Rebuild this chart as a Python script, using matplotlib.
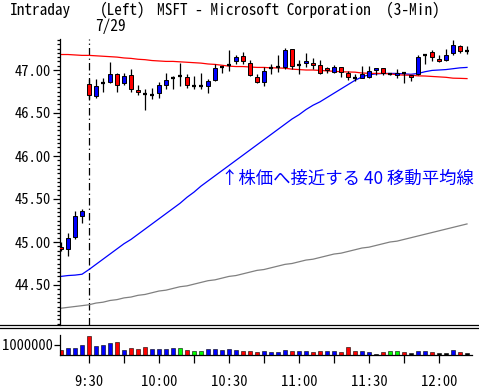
import matplotlib
matplotlib.use('Agg')
import matplotlib.pyplot as plt
from matplotlib.lines import Line2D
import numpy as np

W, H = 479, 392

# ---- data (3-min bars, MSFT 7/29) ----
opens = [44.945, 44.915, 45.055, 45.30,
         46.84, 46.70, 46.85, 46.86, 46.95, 46.845, 46.94, 46.77,
         46.72, 46.71, 46.73, 46.83, 46.91, 46.93, 46.92, 46.81, 46.81, 46.81,
         46.88, 47.03, 47.055, 47.11, 47.16, 47.08, 46.92, 46.86, 47.02, 47.03,
         47.03, 47.24, 47.06, 47.08, 47.085, 47.055, 47.02, 46.98, 47.04, 46.96,
         46.91, 46.91, 46.92, 47.00, 47.02, 46.95, 46.94, 46.96, 46.94, 46.95,
         47.18, 47.21, 47.13, 47.12, 47.20, 47.28, 47.22]
highs = [45.00, 45.10, 45.36, 45.38,
         46.89, 46.89, 46.91, 47.09, 46.97, 46.96, 47.01, 46.83,
         46.78, 46.79, 46.86, 46.97, 46.93, 47.085, 46.95, 46.93, 46.97, 46.89,
         47.07, 47.05, 47.23, 47.18, 47.21, 47.12, 46.95, 47.03, 47.07, 47.18,
         47.26, 47.24, 47.12, 47.20, 47.14, 47.12, 47.04, 47.06, 47.04, 46.99,
         46.95, 47.05, 47.05, 47.02, 47.02, 46.96, 47.01, 46.98, 46.94, 47.17,
         47.19, 47.23, 47.18, 47.24, 47.35, 47.29, 47.28]
lows = [44.90, 44.84, 45.04, 45.22,
        46.66, 46.68, 46.74, 46.85, 46.74, 46.83, 46.74, 46.71,
        46.535, 46.66, 46.68, 46.78, 46.78, 46.81, 46.79, 46.78, 46.78, 46.73,
        46.87, 46.96, 46.99, 47.07, 47.07, 46.93, 46.85, 46.81, 46.95, 46.98,
        47.01, 47.01, 46.95, 47.03, 47.01, 46.95, 46.96, 46.96, 46.92, 46.88,
        46.87, 46.91, 46.91, 46.94, 46.94, 46.94, 46.91, 46.85, 46.87, 46.94,
        47.07, 47.10, 47.09, 47.10, 47.18, 47.20, 47.19]
closes = [44.92, 45.05, 45.30, 45.36,
          46.71, 46.81, 46.85, 46.95, 46.83, 46.93, 46.78, 46.745,
          46.72, 46.71, 46.83, 46.88, 46.91, 46.93, 46.83, 46.81, 46.81, 46.87,
          47.02, 47.03, 47.055, 47.15, 47.10, 46.94, 46.86, 46.99, 47.02, 47.03,
          47.23, 47.05, 47.06, 47.105, 47.06, 46.96, 47.00, 47.04, 46.98, 46.92,
          46.91, 46.95, 46.985, 47.02, 46.97, 46.95, 46.96, 46.96, 46.92, 47.15,
          47.18, 47.15, 47.10, 47.18, 47.29, 47.22, 47.22]

ma_red = [47.18, 47.18, 47.175, 47.17, 47.17, 47.165, 47.16, 47.155, 47.15, 47.14,
          47.135, 47.125, 47.12, 47.11, 47.105, 47.10, 47.10, 47.095, 47.09, 47.085,
          47.08, 47.07, 47.065, 47.055, 47.045, 47.04, 47.04, 47.035, 47.03, 47.03,
          47.025, 47.025, 47.02, 47.01, 47.005, 47.00, 47.00, 46.995, 46.99, 46.985,
          46.98, 46.977, 46.975, 46.965, 46.962, 46.96, 46.96, 46.955, 46.945, 46.94,
          46.94, 46.932, 46.93, 46.925, 46.92, 46.915, 46.905, 46.903, 46.90]
ma_blue = [44.60, 44.61, 44.615, 44.625, 44.68, 44.74, 44.80, 44.86, 44.92, 44.98,
           45.03, 45.09, 45.15, 45.21, 45.27, 45.33, 45.39, 45.45, 45.52, 45.58,
           45.65, 45.71, 45.77, 45.83, 45.89, 45.95, 46.01, 46.07, 46.13, 46.19,
           46.25, 46.31, 46.37, 46.43, 46.48, 46.54, 46.59, 46.63, 46.68, 46.73,
           46.78, 46.83, 46.88, 46.92, 46.945, 46.955, 46.96, 46.96, 46.96, 46.955,
           46.95, 46.96, 46.98, 46.995, 47.00, 47.005, 47.015, 47.025, 47.03]
ma_gray = [44.23, 44.24, 44.25, 44.26, 44.27, 44.29, 44.30, 44.32, 44.33, 44.35,
           44.36, 44.38, 44.39, 44.41, 44.43, 44.44, 44.46, 44.48, 44.49, 44.51,
           44.53, 44.55, 44.56, 44.58, 44.60, 44.61, 44.63, 44.65, 44.67, 44.68,
           44.70, 44.72, 44.74, 44.75, 44.77, 44.79, 44.80, 44.82, 44.84, 44.86,
           44.87, 44.89, 44.91, 44.93, 44.94, 44.96, 44.98, 45.00, 45.01, 45.03,
           45.05, 45.07, 45.09, 45.11, 45.13, 45.15, 45.17, 45.19, 45.21]

volumes = [470000, 700000, 700000, 1000000, 1900000, 870000, 1000000, 1200000, 1300000, 470000,
           670000, 570000, 770000, 570000, 570000, 570000, 670000, 670000, 470000, 370000,
           370000, 570000, 570000, 470000, 570000, 470000, 370000, 370000, 270000, 370000,
           270000, 270000, 470000, 370000, 370000, 370000, 270000, 370000, 370000, 370000,
           270000, 770000, 370000, 370000, 270000, 130000, 270000, 370000, 370000, 270000,
           200000, 370000, 370000, 270000, 200000, 200000, 470000, 270000, 200000]
# u = up, d = down, s = same, n = none
vol_dir = ['d', 'u', 'u', 'u', 'd', 'u', 'u', 'u', 'd', 'u',
           'd', 'd', 'd', 'u', 'u', 'u', 'u', 's', 'd', 's',
           's', 'u', 'u', 'u', 'u', 'u', 'd', 'd', 'd', 'u',
           'u', 'u', 'u', 'd', 'u', 'u', 'd', 'd', 'u', 'u',
           'd', 'd', 'd', 'u', 'u', 'n', 'd', 's', 's', 'd',
           'n', 'u', 'u', 'd', 'n', 'n', 'u', 'd', 'n']

time_tick_idx = [4, 9, 14, 19, 24, 29, 34, 39, 44, 49, 54]
time_label_idx = [4, 14, 24, 34, 44, 54]
time_labels = ['9:30', '10:00', '10:30', '11:00', '11:30', '12:00']
price_ticks = [44.5, 45.0, 45.5, 46.0, 46.5, 47.0]
open_idx = 4

# ---- figure ----
LAT = ['Noto Sans Mono CJK JP', 'DejaVu Sans']
plt.rcParams['font.family'] = LAT
fig = plt.figure(figsize=(W / 100, H / 100), dpi=100)

def fx(px):
    return px / W

def fy(py):
    return 1 - py / H

ax = fig.add_axes([fx(60), fy(325), fx(419), 286 / H])
axv = fig.add_axes([fx(60), fy(355), fx(419), 28 / H])

x = np.arange(len(opens))
o = np.array(opens); c = np.array(closes)
hi = np.array(highs); lo = np.array(lows)

BLUE = '#0000ff'; RED = '#ff0000'

# moving averages
ax.plot(x, ma_gray, color='#808080', lw=0.9, zorder=2)
ax.plot(x, ma_blue, color=BLUE, lw=0.9, zorder=2)
ax.plot(x, ma_red, color=RED, lw=0.9, zorder=2)

# open marker
ax.axvline(open_idx, color='black', lw=0.9, dashes=(6, 2.5, 1, 2.5), zorder=1)

# candles
ax.vlines(x, lo, hi, color='black', lw=0.9, zorder=3)
bw = 0.64
for i in range(len(x)):
    if c[i] == o[i]:
        ax.hlines(c[i], x[i] - bw / 2, x[i] + bw / 2, color='black', lw=1.6, zorder=4)
    else:
        col = BLUE if c[i] > o[i] else RED
        ax.bar(x[i], abs(c[i] - o[i]), bottom=min(o[i], c[i]), width=bw,
               color=col, edgecolor='black', lw=0.7, zorder=4)

ax.set_xlim((60 - 61) / 7, (479 - 61) / 7)
ax.set_ylim(47 - 255 / 86, 47 + 31 / 86)
for s in ['top', 'right', 'bottom']:
    ax.spines[s].set_visible(False)
ax.spines['left'].set_linewidth(0.9)
ax.set_xticks([])
ax.set_yticks(price_ticks)
ax.set_yticklabels(['%.2f' % v for v in price_ticks])
ax.set_yticks(np.arange(44.05, 47.36, 0.05), minor=True)
ax.tick_params(axis='y', which='major', length=5, width=0.9, pad=1.5, labelsize=10.5)
ax.tick_params(axis='y', which='minor', length=2.5, width=0.9)

ax.text(fx(221), fy(179), '↑株価へ接近する 40 移動平均線', transform=fig.transFigure,
        color=BLUE, fontsize=12.5, va='center', ha='left',
        family=['Noto Sans CJK JP', 'DejaVu Sans'])

# volume
vcol = {'u': BLUE, 'd': RED, 's': '#00ff00', 'n': 'black'}
axv.bar(x, volumes, width=0.7, color=[vcol[d] for d in vol_dir],
        edgecolor='black', lw=0.4)
axv.set_xlim(ax.get_xlim())
axv.set_ylim(0, 2800000)
axv.spines['top'].set_visible(False)
axv.spines['right'].set_visible(False)
axv.spines['left'].set_bounds(0, 2000000)
axv.spines['bottom'].set_bounds((60 - 61) / 7, (472 - 61) / 7)
axv.spines['left'].set_linewidth(0.9)
axv.spines['bottom'].set_linewidth(0.9)
axv.set_yticks([1000000])
axv.set_yticklabels(['1000000'])
axv.tick_params(axis='y', length=4, width=0.9, pad=1, labelsize=10.5)
axv.set_xticks(time_tick_idx)
axv.set_xticklabels([time_labels[time_label_idx.index(t)] if t in time_label_idx else ''
                     for t in time_tick_idx])
axv.tick_params(axis='x', length=6, width=0.9, pad=8.5, labelsize=10.5)

# separator double line
fig.add_artist(Line2D([0, 1], [fy(325), fy(325)], color='black', lw=0.9,
                      transform=fig.transFigure))
fig.add_artist(Line2D([0, 1], [fy(327.5), fy(327.5)], color='black', lw=0.9,
                      transform=fig.transFigure))

# header
fig.text(fx(10), fy(15), 'Intraday', fontsize=11, va='baseline', ha='left')
fig.text(fx(100), fy(15), '(Left)', fontsize=11, va='baseline', ha='left')
fig.text(fx(157), fy(15), 'MSFT - Microsoft Corporation  (3-Min)', fontsize=11,
         va='baseline', ha='left')
fig.text(fx(95), fy(31), '7/29', fontsize=11, va='baseline', ha='left')

fig.savefig('out.png', dpi=100)
